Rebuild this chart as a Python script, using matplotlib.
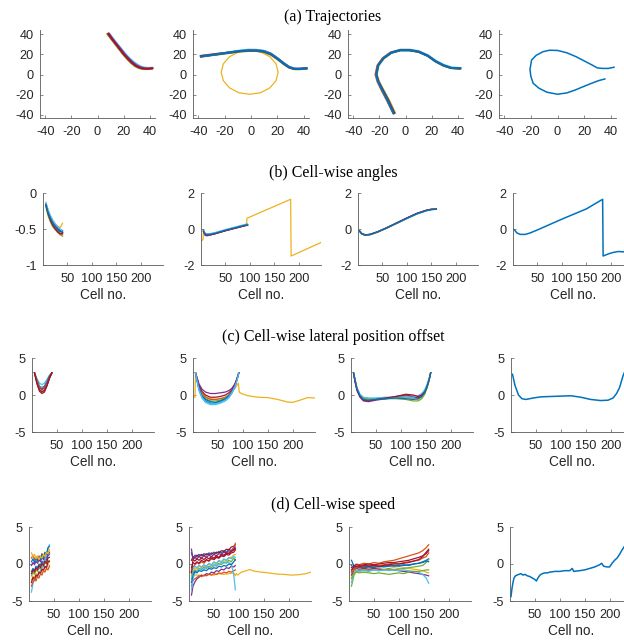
import matplotlib
matplotlib.use("Agg")
import matplotlib.pyplot as plt

plt.rcParams['axes.unicode_minus'] = False
plt.rcParams['font.family'] = ['Liberation Sans', 'DejaVu Sans']

# MATLAB default colour order
C = ['#0072BD', '#D95319', '#EDB120', '#7E2F8E', '#77AC30', '#4DBEEE', '#A2142F']
BLUE, ORANGE, YELLOW, PURPLE, GREEN, CYAN, RED = C

titles = ['(a) Trajectories', '(b) Cell-wise angles',
          '(c) Cell-wise lateral position offset', '(d) Cell-wise speed']
traj_ticks = [-40, -20, 0, 20, 40]
cell_ticks = [50, 100, 150, 200]
xlabel_cell = 'Cell no.'

# ---------------- (a) trajectories ----------------
a1_lines = [  # (colour, x, y)
    (BLUE,   [8, 11, 14, 17, 20, 23, 26, 29, 32, 35, 38, 41], [40, 35, 30, 25, 20, 16, 12, 9, 7, 6, 5.8, 6]),
    (ORANGE, [8.5, 11.5, 14.5, 17.5, 20.5, 23.5, 26.5, 29.5, 32.5, 35.5, 38.5, 42], [40, 34.5, 29.5, 24.5, 19.5, 15.3, 11.5, 8.5, 6.6, 5.7, 5.5, 6]),
    (GREEN,  [7.5, 10.5, 13.5, 16.5, 19.5, 22.5, 25.5, 28.5, 31.5, 34.5, 38, 41], [40, 35, 30, 25, 20, 15.5, 11.5, 8.3, 6.3, 5.4, 5.3, 5.8]),
    (CYAN,   [9.2, 12.2, 15.3, 18.5, 21.6, 24.6, 27.6, 30.6, 33.3, 36.2, 39, 42], [40, 35, 30, 25, 20, 16, 12.5, 9.7, 7.8, 6.8, 6.5, 6.7]),
    (YELLOW, [8.3, 11.3, 14.3, 17.3, 20.3, 23.3, 26.3, 29.3, 32.3, 35.3, 38.5, 41.5], [40.5, 35, 30, 25, 20, 15.7, 11.8, 8.7, 6.8, 5.8, 5.6, 6]),
    (PURPLE, [8.7, 11.7, 14.7, 17.8, 20.8, 23.8, 26.8, 29.8, 32.8, 35.8, 38.8, 42], [40.5, 35, 30, 25, 20, 15.8, 12, 9, 7.1, 6.1, 5.9, 6.3]),
    (RED,    [8.2, 11.2, 14.2, 17.2, 20.2, 23.2, 26.2, 29.2, 32.2, 35.2, 38.2, 41.5], [40, 34.7, 29.7, 24.7, 19.7, 15.5, 11.6, 8.6, 6.7, 5.8, 5.6, 6]),
]
a2_lines = [
    (BLUE,   [-38, -32, -26, -20, -14, -8, -2, 4, 10, 15, 20, 25, 29, 33, 37, 42], [18, 19, 20, 21, 22, 23, 23.5, 23.5, 22.5, 20, 15.5, 10.5, 7, 5.5, 5.5, 6]),
    (ORANGE, [-38, -32, -26, -20, -14, -8, -2, 4, 10, 15, 20, 25, 29, 33, 37, 42], [18.5, 19.5, 20.5, 21.3, 22.2, 23.2, 23.8, 23.8, 22.8, 20.3, 15.8, 10.6, 7, 5.4, 5.3, 6]),
    (PURPLE, [-38, -32, -26, -20, -14, -8, -2, 4, 10, 15, 20, 25, 29, 33, 37, 42], [17.5, 18.7, 19.8, 21, 22.2, 23.3, 24, 24.2, 23.3, 20.8, 16.3, 11.2, 7.6, 5.9, 5.8, 6.3]),
    (GREEN,  [-38, -32, -26, -20, -14, -8, -2, 4, 10, 15, 20, 25, 29, 33, 37, 42], [18, 18.8, 19.6, 20.6, 21.6, 22.6, 23.2, 23.2, 22, 19.5, 15, 10, 6.7, 5.2, 5.2, 5.8]),
    (CYAN,   [-38, -32, -26, -20, -14, -8, -2, 4, 10, 15, 20, 25, 29, 33, 37, 42], [18.3, 19.2, 20.3, 21.4, 22.6, 23.8, 24.6, 24.5, 23.3, 20.7, 16.2, 11, 7.4, 5.8, 5.7, 6.2]),
    (RED,    [-38, -32, -26, -20, -14, -8, -2, 4, 10, 15, 20, 25, 29, 33, 37, 42], [18.2, 19.1, 20.1, 21.1, 22.1, 23.1, 23.6, 23.6, 22.6, 20.1, 15.6, 10.5, 7, 5.5, 5.5, 6.1]),
    (BLUE,   [-38, -32, -26, -20, -14, -8, -2, 4, 10, 15, 20, 25, 29, 33, 37, 42], [17.8, 18.9, 20, 21.2, 22.3, 23.3, 23.9, 23.9, 22.9, 20.4, 15.9, 10.8, 7.2, 5.6, 5.6, 6]),
]
a2_loop_x = [-38, -30, -20, -10, -1, 7.3, 14.3, 19, 20.6, 19, 14.3, 7.3, -1, -9.3, -16.3, -21, -22.6, -21, -16.3, -9.3, -1]
a2_loop_y = [18, 19.5, 21, 22.5, 24, 22.3, 17.6, 10.5, 2.2, -6.1, -13.2, -18, -19.6, -18, -13.2, -6.1, 2.2, 10.5, 17.6, 22.3, 24]

a3_lines = [
    (BLUE,   [-9, -14, -18, -21, -22.5, -21, -17, -11, -4, 3, 10, 17, 23, 29, 35, 41.5], [-38, -25, -15, -7, 0, 9, 16, 21.5, 24, 24, 22.5, 18.5, 13, 9, 6.5, 6]),
    (ORANGE, [-9.5, -14.5, -18.5, -21.5, -23, -21.5, -17.5, -11.5, -4, 3, 10, 17, 23, 29, 35, 42], [-38, -25, -15, -7, 0, 9, 16.2, 21.8, 24.3, 24.3, 22.8, 18.8, 13.2, 9.1, 6.5, 6]),
    (GREEN,  [-8, -12.8, -17, -20.3, -22, -20.6, -16.6, -10.8, -4, 3, 10, 17, 23, 29, 35, 41.5], [-38, -25, -15, -7, 0, 9, 15.8, 21.3, 23.8, 23.8, 22.2, 18.2, 12.7, 8.7, 6.2, 5.8]),
    (CYAN,   [-9, -13.7, -17.7, -20.8, -22.3, -20.8, -16.8, -10.8, -3.8, 3.2, 10.2, 17.2, 23.3, 29.3, 35.3, 42], [-38.3, -25.3, -15.3, -7.3, 0, 9.2, 16.5, 22, 24.6, 24.6, 23.1, 19.1, 13.6, 9.6, 7, 6.4]),
    (RED,    [-8.7, -13.4, -17.5, -20.7, -22.3, -21, -17, -11, -4, 3, 10, 17, 23, 29, 35, 41.5], [-38, -25, -15, -7, 0, 9, 16, 21.6, 24.1, 24.1, 22.6, 18.6, 13.1, 9, 6.4, 5.9]),
    (BLUE,   [-9.2, -14, -18, -21, -22.5, -21, -17, -11, -4, 3, 10, 17, 23, 29, 35, 42], [-38.5, -25, -15, -7, 0, 9, 16, 21.5, 24, 24, 22.5, 18.5, 13, 9, 6.5, 6.3]),
]
a4_x = [42.5, 40.7, 38, 34, 30, 26, 20, 14, 7, 0, -6, -11, -16, -19.5, -20.7, -20, -18.3, -14, -8, 0, 7, 13, 19, 26, 31, 35.6]
a4_y = [7.2, 6.7, 6, 6, 6.5, 9.4, 13.5, 17.6, 21.5, 23.8, 24, 22.5, 19, 14.3, 5, -2, -8.7, -13.5, -17.5, -19.5, -18.2, -15.5, -12.2, -8.5, -6, -4.4]

# ---------------- (b) angles ----------------
b1_cells = [6, 10, 15, 20, 25, 30, 35, 40]
b1_lines = [
    (BLUE,   [-0.15, -0.25, -0.33, -0.40, -0.45, -0.49, -0.52, -0.55]),
    (ORANGE, [-0.18, -0.28, -0.37, -0.44, -0.49, -0.53, -0.56, -0.58]),
    (YELLOW, [-0.14, -0.24, -0.32, -0.38, -0.43, -0.46, -0.48, -0.42]),
    (PURPLE, [-0.16, -0.26, -0.34, -0.41, -0.46, -0.50, -0.53, -0.55]),
    (GREEN,  [-0.20, -0.31, -0.40, -0.47, -0.51, -0.55, -0.58, -0.60]),
    (CYAN,   [-0.13, -0.22, -0.31, -0.38, -0.43, -0.47, -0.50, -0.52]),
    (RED,    [-0.17, -0.28, -0.38, -0.45, -0.50, -0.54, -0.57, -0.56]),
    (BLUE,   [-0.16, -0.27, -0.35, -0.42, -0.47, -0.51, -0.54, -0.53]),
]
b2_cells = [5, 8, 12, 20, 30, 40, 50, 60, 70, 80, 90, 95]
b2_lines = [
    (BLUE,   [-0.10, -0.26, -0.32, -0.30, -0.24, -0.16, -0.08, -0.01, 0.06, 0.13, 0.20, 0.22]),
    (ORANGE, [-0.15, -0.30, -0.35, -0.32, -0.26, -0.18, -0.10, -0.03, 0.04, 0.11, 0.18, 0.20]),
    (PURPLE, [-0.05, -0.35, -0.38, -0.33, -0.25, -0.17, -0.09, -0.02, 0.05, 0.12, 0.19, 0.24]),
    (GREEN,  [-0.12, -0.24, -0.29, -0.27, -0.21, -0.13, -0.05, 0.02, 0.09, 0.16, 0.23, 0.26]),
    (CYAN,   [-0.08, -0.22, -0.27, -0.25, -0.19, -0.11, -0.03, 0.04, 0.11, 0.18, 0.25, 0.28]),
    (RED,    [-0.14, -0.28, -0.33, -0.31, -0.25, -0.17, -0.09, -0.02, 0.05, 0.12, 0.19, 0.21]),
    (BLUE,   [-0.11, -0.27, -0.31, -0.29, -0.23, -0.15, -0.07, 0.00, 0.07, 0.14, 0.21, 0.23]),
]
b2_yel_cells = [1, 4, 5, 8, 12, 20, 30, 40, 50, 60, 70, 80, 90, 93, 94, 183, 184, 245]
b2_yel_vals = [-0.65, -0.6, -0.2, -0.25, -0.3, -0.28, -0.22, -0.15, -0.07, 0.0, 0.07, 0.14, 0.22, 0.3, 0.6, 1.65, -1.5, -0.75]
b3_cells = [3, 8, 15, 25, 40, 60, 80, 100, 120, 140, 150, 160]
b3_lines = [
    (BLUE,   [-0.10, -0.26, -0.33, -0.30, -0.16, 0.08, 0.34, 0.60, 0.84, 1.02, 1.08, 1.10]),
    (ORANGE, [-0.12, -0.28, -0.35, -0.31, -0.17, 0.07, 0.33, 0.59, 0.85, 1.04, 1.10, 1.12]),
    (YELLOW, [-0.11, -0.27, -0.34, -0.31, -0.16, 0.09, 0.35, 0.61, 0.86, 1.03, 1.09, 1.11]),
    (PURPLE, [-0.09, -0.25, -0.32, -0.29, -0.15, 0.09, 0.36, 0.62, 0.87, 1.05, 1.10, 1.10]),
    (GREEN,  [-0.13, -0.29, -0.36, -0.32, -0.18, 0.06, 0.32, 0.58, 0.83, 1.03, 1.10, 1.13]),
    (CYAN,   [-0.10, -0.27, -0.34, -0.31, -0.17, 0.07, 0.33, 0.58, 0.83, 1.01, 1.07, 1.09]),
    (RED,    [-0.12, -0.27, -0.34, -0.30, -0.16, 0.08, 0.34, 0.61, 0.86, 1.04, 1.09, 1.11]),
    (BLUE,   [-0.11, -0.26, -0.33, -0.30, -0.16, 0.08, 0.34, 0.60, 0.85, 1.03, 1.08, 1.10]),
]
b4_cells = [3, 8, 15, 25, 35, 50, 100, 150, 183, 184, 195, 205, 215, 230, 245]
b4_vals = [-0.05, -0.22, -0.3, -0.3, -0.22, -0.05, 0.55, 1.12, 1.65, -1.5, -1.38, -1.3, -1.25, -1.28, -1.3]

# ---------------- (c) lateral offset ----------------
c1_cells = [5, 10, 15, 20, 25, 30, 35, 40]
c1_lines = [
    (CYAN,   [3, 2.2, 1.6, 1.4, 1.6, 2.1, 2.7, 3]),
    (BLUE,   [3, 2.0, 1.2, 1.0, 1.2, 1.8, 2.5, 3]),
    (ORANGE, [3, 1.8, 1.0, 0.7, 0.9, 1.5, 2.4, 3]),
    (YELLOW, [3, 1.9, 1.1, 0.9, 1.0, 1.6, 2.4, 3]),
    (PURPLE, [3, 1.9, 1.0, 0.8, 1.0, 1.7, 2.5, 3]),
    (GREEN,  [3, 1.7, 0.8, 0.5, 0.7, 1.4, 2.3, 3]),
    (RED,    [3, 1.5, 0.5, 0.2, 0.4, 1.2, 2.2, 3]),
    (RED,    [3, 1.6, 0.7, 0.4, 0.6, 1.3, 2.3, 3]),
]
c2_cells = [5, 8, 12, 18, 25, 35, 45, 55, 65, 72, 78, 84, 88, 92]
c2_lines = [
    (BLUE,   [3, 2.0, 0.8, -0.2, -0.8, -1.1, -1.1, -0.9, -0.6, -0.2, 0.4, 1.2, 2.0, 3]),
    (ORANGE, [3, 2.2, 1.1, 0.2, -0.3, -0.6, -0.6, -0.5, -0.3, 0.0, 0.5, 1.3, 2.1, 3]),
    (GREEN,  [3, 2.1, 1.0, 0.0, -0.5, -0.8, -0.8, -0.7, -0.4, -0.1, 0.4, 1.2, 2.0, 3]),
    (CYAN,   [3, 1.9, 0.6, -0.4, -1.0, -1.3, -1.3, -1.1, -0.8, -0.4, 0.2, 1.0, 1.9, 3]),
    (RED,    [3, 2.3, 1.3, 0.5, 0.0, -0.3, -0.3, -0.2, 0.0, 0.3, 0.7, 1.4, 2.1, 3]),
    (BLUE,   [3, 2.0, 0.9, -0.1, -0.6, -0.9, -1.0, -0.8, -0.5, -0.1, 0.4, 1.1, 2.0, 3]),
    (PURPLE, [3, 2.4, 1.5, 0.8, 0.4, 0.2, 0.2, 0.3, 0.4, 0.6, 0.9, 1.5, 2.2, 3]),
    (CYAN,   [3, 2.0, 0.7, -0.3, -0.9, -1.2, -1.2, -1.0, -0.7, -0.3, 0.3, 1.1, 1.9, 3]),
]
c2_yel_cells = [1, 4, 5, 8, 12, 18, 25, 35, 45, 55, 65, 72, 78, 84, 88, 91, 93, 97, 110, 130, 150, 170, 190, 200, 215, 230, 245]
c2_yel_vals = [-0.3, -0.3, 3, 2, 1, 0.3, -0.2, -0.5, -0.6, -0.5, -0.3, 0, 0.4, 0.9, 1.3, 1.6, 0.4, 0.2, -0.1, -0.3, -0.35, -0.6, -0.95, -1.0, -0.7, -0.35, -0.4]
c3_cells = [5, 8, 12, 18, 25, 35, 50, 70, 90, 110, 125, 135, 142, 148, 153, 157, 160]
c3_lines = [
    (BLUE,   [3, 2.0, 0.8, -0.1, -0.5, -0.6, -0.5, -0.4, -0.3, -0.3, -0.4, -0.3, 0.0, 0.5, 1.3, 2.2, 3]),
    (ORANGE, [3, 2.1, 0.9, 0.0, -0.4, -0.6, -0.6, -0.5, -0.3, -0.1, -0.2, -0.3, -0.1, 0.4, 1.2, 2.1, 3]),
    (YELLOW, [3, 1.9, 0.7, -0.2, -0.6, -0.7, -0.6, -0.5, -0.4, -0.4, -0.5, -0.6, -0.3, 0.2, 1.1, 2.0, 3]),
    (PURPLE, [3, 1.8, 0.6, -0.3, -0.8, -0.9, -0.7, -0.5, -0.2, 0.0, -0.2, -0.4, -0.2, 0.3, 1.2, 2.1, 3]),
    (GREEN,  [3, 2.0, 0.9, 0.0, -0.4, -0.5, -0.5, -0.5, -0.5, -0.6, -0.8, -0.8, -0.5, 0.1, 1.0, 2.0, 3]),
    (CYAN,   [3, 2.2, 1.0, 0.1, -0.3, -0.4, -0.4, -0.3, -0.3, -0.3, -0.3, -0.1, 0.2, 0.7, 1.5, 2.3, 3]),
    (RED,    [3, 1.9, 0.7, -0.2, -0.7, -0.8, -0.6, -0.4, -0.2, 0.1, 0.0, -0.2, 0.0, 0.4, 1.2, 2.1, 3]),
    (BLUE,   [3, 2.1, 0.8, -0.1, -0.6, -0.7, -0.6, -0.5, -0.4, -0.5, -0.6, -0.5, -0.2, 0.3, 1.2, 2.1, 3]),
]
c4_cells = [3, 8, 15, 22, 30, 45, 60, 80, 100, 120, 140, 160, 180, 195, 205, 212, 218, 225, 230]
c4_vals = [2.8, 1.3, 0.0, -0.5, -0.6, -0.4, -0.25, -0.2, -0.15, -0.1, -0.3, -0.6, -0.75, -0.7, -0.4, 0.2, 1.0, 2.6, 3.4]

# ---------------- (d) speed ----------------
d1_cells = [5, 8, 11, 14, 17, 20, 23, 26, 29, 32, 35, 38, 41]
d1_lines = [
    (BLUE,   [-1.0, -0.6, -0.9, -0.3, -0.5, 0.0, -0.2, 0.4, 0.1, 0.7, 0.5, 1.1, 1.3]),
    (ORANGE, [0.8, 1.2, 0.6, 1.0, 0.5, 1.1, 0.8, 1.4, 1.0, 1.5, 1.2, 1.8, 1.6]),
    (YELLOW, [-2.2, -1.6, -1.9, -1.3, -1.5, -1.0, -1.2, -0.6, -0.9, -0.4, -0.6, 0.0, -0.2]),
    (PURPLE, [-0.2, 0.2, -0.1, 0.4, 0.1, 0.6, 0.3, 0.9, 0.6, 1.1, 0.8, 1.4, 1.5]),
    (GREEN,  [-1.6, -1.1, -1.4, -0.8, -1.0, -0.5, -0.7, -0.2, -0.4, 0.2, 0.0, 0.5, 0.3]),
    (CYAN,   [-3.8, -2.6, -2.2, -1.8, -1.6, -1.2, -0.9, -0.6, 0.0, 0.5, 1.2, 2.0, 2.6]),
    (RED,    [-2.5, -1.8, -2.1, -1.5, -1.7, -1.1, -1.3, -0.7, -0.9, -0.3, -0.5, 0.2, 0.4]),
    (BLUE,   [0.3, 0.7, 0.2, 0.8, 0.4, 1.0, 0.6, 1.3, 0.9, 1.6, 1.3, 2.2, 2.4]),
    (ORANGE, [-3.0, -2.4, -2.0, -2.3, -1.7, -1.9, -1.3, -1.5, -0.9, -1.1, -0.6, -0.8, -0.3]),
    (YELLOW, [1.5, 1.0, 1.3, 0.7, 1.1, 0.6, 1.0, 0.8, 1.3, 1.0, 1.6, 1.4, 2.0]),
    (RED,    [-1.3, -0.8, -1.1, -0.5, -0.8, -0.2, -0.5, 0.1, -0.2, 0.4, 0.1, 0.8, 0.9]),
]
d2_cells = [5, 8, 12, 16, 20, 25, 30, 35, 40, 45, 50, 55, 60, 65, 70, 75, 80, 85, 90, 93]
d2_lines = [
    (PURPLE, [-4.2, -3.0, -2.4, -2.0, -1.8, -1.5, -1.6, -1.3, -1.4, -1.1, -1.2, -0.9, -1.0, -0.7, -0.8, -0.5, -0.6, -0.3, -0.4, -0.2]),
    (ORANGE, [-3.0, -2.2, -2.0, -1.8, -1.6, -1.7, -1.5, -1.6, -1.4, -1.5, -1.3, -1.4, -1.2, -1.3, -1.1, -1.2, -1.0, -1.1, -0.9, -0.8]),
    (BLUE,   [1.5, 0.8, 1.2, 1.0, 1.3, 1.1, 1.4, 1.2, 1.5, 1.3, 1.6, 1.4, 1.7, 1.5, 1.8, 1.6, 2.0, 1.8, 2.2, 2.0]),
    (YELLOW, [-1.5, -0.9, -0.5, -0.7, -0.3, -0.5, -0.2, -0.4, 0.0, -0.2, 0.2, 0.0, 0.4, 0.2, 0.6, 0.4, 0.8, 0.9, 1.2, 1.3]),
    (GREEN,  [-2.0, -1.2, -0.8, -1.0, -0.6, -0.8, -0.4, -0.6, -0.3, -0.5, -0.1, -0.3, 0.1, -0.1, 0.3, 0.1, 0.5, 0.3, 0.8, 0.5]),
    (CYAN,   [-3.5, -2.0, -1.2, -0.9, -0.8, -0.6, -0.7, -0.4, -0.5, -0.2, -0.3, 0.0, -0.1, 0.2, 0.1, 0.3, 0.2, 0.0, -1.5, -3.5]),
    (RED,    [0.5, 1.0, 0.8, 1.2, 1.0, 1.3, 1.1, 1.4, 1.2, 1.5, 1.3, 1.6, 1.5, 1.8, 1.7, 2.0, 1.9, 2.3, 2.4, 2.6]),
    (BLUE,   [-2.5, -1.5, -1.0, -1.2, -0.9, -1.0, -0.8, -0.9, -0.6, -0.7, -0.5, -0.6, -0.3, -0.4, -0.2, -0.3, 0.0, -0.1, 0.3, 0.6]),
    (ORANGE, [-1.0, -0.4, -0.1, 0.2, 0.0, 0.3, 0.1, 0.5, 0.4, 0.7, 0.6, 0.9, 0.8, 1.2, 1.1, 1.4, 1.5, 1.8, 2.2, 2.8]),
    (PURPLE, [2.0, 0.6, 0.9, 0.7, 1.0, 0.8, 1.1, 0.9, 1.2, 1.0, 1.3, 1.1, 1.4, 1.3, 1.6, 1.5, 1.8, 1.7, 2.0, 2.3]),
    (RED,    [-0.5, 0.2, 0.0, 0.3, 0.1, 0.5, 0.3, 0.6, 0.4, 0.8, 0.6, 0.9, 0.8, 1.1, 1.0, 1.3, 1.2, 1.5, 1.6, 1.9]),
    (CYAN,   [-1.8, -0.6, -0.3, -0.5, -0.2, -0.4, -0.1, -0.3, 0.1, -0.1, 0.3, 0.1, 0.5, 0.3, 0.7, 0.5, 0.9, 0.7, 1.0, 0.9]),
    (RED,    [-1.2, 0.6, 0.4, 0.7, 0.5, 0.8, 0.6, 0.9, 0.7, 1.0, 0.8, 1.1, 0.9, 1.3, 1.2, 1.5, 1.4, 1.7, 1.9, 2.1]),
]
d2_yel_cells = [1, 3, 5, 10, 20, 30, 40, 50, 60, 70, 80, 90, 93, 95, 98, 105, 115, 122, 130, 145, 160, 175, 190, 205, 220, 235, 245]
d2_yel_vals = [-1.0, -1.1, -1.2, -1.5, -1.5, -1.6, -1.4, -1.5, -1.3, -1.4, -1.3, -1.2, -1.6, -1.3, -1.5, -1.1, -0.9, -0.75, -0.95, -1.1, -1.2, -1.35, -1.4, -1.5, -1.45, -1.3, -1.1]
d3_cells = [5, 10, 15, 20, 30, 40, 50, 60, 70, 80, 90, 100, 110, 120, 130, 140, 148, 155, 160]
d3_lines = [
    (BLUE,   [0.5, -0.3, -0.5, -0.4, -0.5, -0.4, -0.5, -0.3, -0.4, -0.3, -0.2, -0.3, -0.2, -0.1, 0.0, 0.1, 0.3, 0.5, 0.7]),
    (ORANGE, [-1.0, -0.3, 0.0, -0.1, 0.1, 0.0, 0.2, 0.1, 0.3, 0.4, 0.5, 0.7, 0.9, 1.1, 1.3, 1.5, 1.8, 2.2, 2.6]),
    (YELLOW, [-1.8, -1.0, -0.8, -0.9, -0.7, -0.8, -0.7, -0.6, -0.7, -0.6, -0.5, -0.6, -0.5, -0.6, -0.7, -0.8, -0.9, -1.1, -1.2]),
    (PURPLE, [-1.5, -0.8, -0.6, -0.7, -0.6, -0.7, -0.6, -0.7, -0.8, -0.7, -0.8, -0.9, -1.0, -1.1, -1.2, -1.3, -1.4, -1.5, -1.6]),
    (GREEN,  [-3.0, -1.5, -1.0, -0.9, -0.8, -0.9, -0.8, -0.9, -0.8, -0.7, -0.8, -0.7, -0.6, -0.5, -0.4, -0.3, -0.2, 0.2, 0.6]),
    (CYAN,   [-2.5, -1.2, -0.9, -1.0, -0.9, -1.0, -0.8, -0.9, -0.8, -0.9, -0.8, -0.9, -0.8, -0.9, -1.0, -1.1, -1.4, -1.9, -2.6]),
    (RED,    [-0.5, -0.2, -0.1, -0.2, -0.1, 0.0, -0.1, 0.0, 0.1, 0.2, 0.2, 0.3, 0.4, 0.5, 0.7, 0.9, 1.1, 1.4, 1.8]),
    (BLUE,   [-0.2, -0.6, -0.4, -0.5, -0.3, -0.4, -0.3, -0.4, -0.3, -0.2, -0.3, -0.2, -0.1, -0.2, 0.0, 0.1, 0.2, 0.4, 0.3]),
    (GREEN,  [-2.0, -1.2, -1.1, -1.2, -1.1, -1.2, -1.3, -1.2, -1.3, -1.4, -1.3, -1.2, -1.3, -1.1, -1.0, -1.0, -0.9, -0.8, -0.8]),
    (ORANGE, [-1.2, -0.7, -0.5, -0.4, -0.3, -0.2, -0.3, -0.2, -0.1, 0.0, 0.1, 0.0, 0.2, 0.3, 0.4, 0.5, 0.8, 1.0, 1.5]),
    (RED,    [-0.8, -0.4, -0.3, -0.4, -0.2, -0.3, -0.2, -0.3, -0.2, -0.1, 0.0, 0.0, 0.1, 0.2, 0.4, 0.6, 1.0, 1.6, 2.0]),
]
d4_cells = [2, 4, 6, 8, 11, 14, 18, 22, 26, 30, 35, 40, 45, 50, 53, 56, 60, 65, 70, 75, 80, 90, 100, 110, 120, 125, 128,
            140, 150, 160, 170, 180, 184, 188, 195, 200, 205, 210, 215, 220, 225, 230]
d4_vals = [-4.4, -3.3, -2.5, -1.9, -1.6, -1.5, -1.4, -1.3, -1.5, -1.4, -1.6, -1.7, -1.9, -2.1, -2.3, -1.9, -1.5, -1.3, -1.2, -1.2,
           -1.1, -1.0, -1.0, -0.9, -0.9, -0.6, -1.0, -0.9, -0.8, -0.6, -0.4, -0.1, 0.1, -0.3, -0.4, -0.4, 0.1, 0.5, 0.8, 1.3, 1.9, 2.4]

# ---------------- figure ----------------
W, H = 624, 640
fig = plt.figure(figsize=(W / 100, H / 100), dpi=100)


def px_axes(left, top, width, bottom):
    return fig.add_axes([left / W, 1 - bottom / H, width / W, (bottom - top) / H])


AX_COL = '#262626'


def style(ax, xlim, ylim, xticks, yticks, yticklabels=None, xlabel=None):
    for s in ['top', 'right']:
        ax.spines[s].set_visible(False)
    for s in ['left', 'bottom']:
        ax.spines[s].set_color('#5a5a5a')
        ax.spines[s].set_linewidth(0.6)
    ax.set_xlim(*xlim)
    ax.set_ylim(*ylim)
    ax.set_xticks(xticks)
    ax.set_yticks(yticks)
    ax.set_xticklabels([str(t) for t in xticks])
    ax.set_yticklabels(yticklabels if yticklabels else [str(t) for t in yticks])
    ax.tick_params(direction='in', length=2.5, width=0.5, colors='#5a5a5a',
                   labelcolor=AX_COL, labelsize=9.2)
    ax.tick_params(axis='x', pad=5.5)
    ax.tick_params(axis='y', pad=4.5)
    if xlabel:
        ax.set_xlabel(xlabel, fontsize=9.8, color=AX_COL, labelpad=2.5)
    ax.patch.set_alpha(0)


LW = 0.9

# Row (a)
a_lefts = [40, 193, 348, 499]
a_widths = [115, 116, 115, 117]
row_a = [px_axes(l, 30, w, 118) for l, w in zip(a_lefts, a_widths)]
for ax in row_a:
    style(ax, (-44, 44), (-43, 44), traj_ticks, traj_ticks)
for col, x, y in a1_lines:
    row_a[0].plot(x, y, color=col, lw=1.4)
row_a[1].plot(a2_loop_x, a2_loop_y, color=YELLOW, lw=LW)
for col, x, y in a2_lines:
    row_a[1].plot(x, y, color=col, lw=1.4)
for col, x, y in a3_lines:
    row_a[2].plot(x, y, color=col, lw=1.4)
row_a[3].plot(a4_x, a4_y, color=BLUE, lw=1.1)

CELL_XLIM = (0, 245)

# Row (b)
b_lefts = [43, 201, 358, 513]
row_b = [px_axes(l, 193, 120, 265) for l in b_lefts]
style(row_b[0], CELL_XLIM, (-1, 0), cell_ticks, [-1, -0.5, 0], ['-1', '-0.5', '0'], xlabel_cell)
for ax in row_b[1:]:
    style(ax, CELL_XLIM, (-2, 2), cell_ticks, [-2, 0, 2], None, xlabel_cell)
for col, v in b1_lines:
    row_b[0].plot(b1_cells, v, color=col, lw=LW)
row_b[1].plot(b2_yel_cells, b2_yel_vals, color=YELLOW, lw=LW)
for col, v in b2_lines:
    row_b[1].plot(b2_cells, v, color=col, lw=LW)
for col, v in b3_lines:
    row_b[2].plot(b3_cells, v, color=col, lw=LW)
row_b[3].plot(b4_cells, b4_vals, color=BLUE, lw=1.1)

# Row (c)
c_lefts = [32, 193, 351, 511]
row_c = [px_axes(l, 358, 122, 432) for l in c_lefts]
for ax in row_c:
    style(ax, CELL_XLIM, (-5, 5), cell_ticks, [-5, 0, 5], None, xlabel_cell)
for col, v in c1_lines:
    row_c[0].plot(c1_cells, v, color=col, lw=LW)
row_c[1].plot(c2_yel_cells, c2_yel_vals, color=YELLOW, lw=LW)
for col, v in c2_lines:
    row_c[1].plot(c2_cells, v, color=col, lw=LW)
for col, v in c3_lines:
    row_c[2].plot(c3_cells, v, color=col, lw=LW)
row_c[3].plot(c4_cells, c4_vals, color=BLUE, lw=1.1)

# Row (d)
d_lefts = [29, 189, 349, 510]
row_d = [px_axes(l, 527, 122, 601) for l in d_lefts]
for ax in row_d:
    style(ax, CELL_XLIM, (-5, 5), cell_ticks, [-5, 0, 5], None, xlabel_cell)
for col, v in d1_lines:
    row_d[0].plot(d1_cells, v, color=col, lw=LW)
row_d[1].plot(d2_yel_cells, d2_yel_vals, color=YELLOW, lw=LW)
for col, v in d2_lines:
    row_d[1].plot(d2_cells, v, color=col, lw=LW)
for col, v in d3_lines:
    row_d[2].plot(d3_cells, v, color=col, lw=LW)
row_d[3].plot(d4_cells, d4_vals, color=BLUE, lw=1.1)

# Row titles
title_y = [17, 173, 337, 505]
for t, y in zip(titles, title_y):
    fig.text(333 / W, 1 - y / H, t, ha='center', va='center', fontsize=11.5,
             family=['Liberation Serif', 'DejaVu Serif'], color='black')

fig.savefig('out.png', dpi=100)
